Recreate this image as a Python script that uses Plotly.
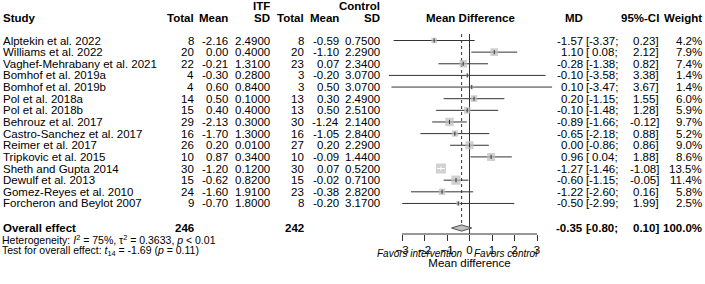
import plotly.graph_objects as go
import math

studies = ["Alptekin et al. 2022", "Williams et al. 2022", "Vaghef-Mehrabany et al. 2021",
           "Bomhof et al. 2019a", "Bomhof et al. 2019b", "Pol et al. 2018a", "Pol et al. 2018b",
           "Behrouz et al. 2017", "Castro-Sanchez et al. 2017", "Reimer et al. 2017",
           "Tripkovic et al. 2015", "Sheth and Gupta 2014", "Dewulf et al. 2013",
           "Gomez-Reyes et al. 2010", "Forcheron and Beylot 2007"]
itf_n = [8, 20, 22, 4, 4, 14, 15, 29, 16, 26, 10, 30, 15, 24, 9]
itf_mean = [-2.16, 0.00, -0.21, -0.30, 0.60, 0.50, 0.40, -2.13, -1.70, 0.20, 0.87, -1.20, -0.62, -1.60, -0.70]
itf_sd = [2.49, 0.40, 1.31, 0.28, 0.84, 0.10, 0.40, 0.30, 1.30, 0.01, 0.34, 0.12, 0.82, 1.91, 1.80]
ctl_n = [8, 20, 23, 3, 3, 13, 13, 30, 16, 27, 10, 30, 15, 23, 8]
ctl_mean = [-0.59, -1.10, 0.07, -0.20, 0.50, 0.30, 0.50, -1.24, -1.05, 0.20, -0.09, 0.07, -0.02, -0.38, -0.20]
ctl_sd = [0.75, 2.29, 2.34, 3.07, 3.07, 2.49, 2.51, 2.14, 2.84, 2.29, 1.44, 0.52, 0.71, 2.82, 3.17]
md = [-1.57, 1.10, -0.28, -0.10, 0.10, 0.20, -0.10, -0.89, -0.65, 0.00, 0.96, -1.27, -0.60, -1.22, -0.50]
ci_lo = [-3.37, 0.08, -1.38, -3.58, -3.47, -1.15, -1.48, -1.66, -2.18, -0.86, 0.04, -1.46, -1.15, -2.60, -2.99]
ci_hi = [0.23, 2.12, 0.82, 3.38, 3.67, 1.55, 1.28, -0.12, 0.88, 0.86, 1.88, -1.08, -0.05, 0.16, 1.99]
weight = [4.2, 7.9, 7.4, 1.4, 1.4, 6.0, 5.9, 9.7, 5.2, 9.0, 8.6, 13.5, 11.4, 5.8, 2.5]

overall_n_itf = 246
overall_n_ctl = 242
overall_md = -0.35
overall_lo = -0.80
overall_hi = 0.10
overall_w = 100.0
het_text = "Heterogeneity: <i>I</i><sup>2</sup> = 75%, τ<sup>2</sup> = 0.3633, <i>p</i> &lt; 0.01"
test_text = "Test for overall effect: <i>t</i><sub>14</sub> = -1.69 (<i>p</i> = 0.11)"
tick_vals = [-3, -2, -1, 0, 1, 2, 3]
label_left = "Favors intervention"
label_right = "Favors control"

W, H = 705, 284
ROW0, ROWH = 40.5, 11.64          # pixel centre of first row, row height
def row_of(px):
    return (px - ROW0) / ROWH

FONT = "Liberation Sans, Arial, Helvetica, sans-serif"
FS = 11.5
DARK = "#333333"
SQ = "#BEBEBE"

n = len(studies)
rows = list(range(n))
r_over = row_of(228)
r_axis = row_of(234)
r_top = row_of(34)

fig = go.Figure()

# CI lines
xs, ys = [], []
for i in rows:
    xs += [ci_lo[i], ci_hi[i], None]
    ys += [i, i, None]
fig.add_trace(go.Scatter(x=xs, y=ys, mode="lines", line=dict(color=DARK, width=1),
                         hoverinfo="skip", showlegend=False))

# reference line at 0 and dotted overall line
fig.add_trace(go.Scatter(x=[0, 0], y=[r_top, r_axis], mode="lines",
                         line=dict(color=DARK, width=1), hoverinfo="skip", showlegend=False))
fig.add_trace(go.Scatter(x=[overall_md, overall_md], y=[r_top, r_over - 0.27], mode="lines",
                         line=dict(color=DARK, width=1, dash="dot"), hoverinfo="skip", showlegend=False))

# squares
sizes = [2.72 * math.sqrt(w) for w in weight]
fig.add_trace(go.Scatter(x=md, y=rows, mode="markers",
                         marker=dict(symbol="square", size=sizes, color=SQ, line=dict(width=0)),
                         hoverinfo="skip", showlegend=False))

# inside white CI for studies where CI fits inside square
xs, ys = [], []
tick_col = []
for i in rows:
    inside = (ci_hi[i] - ci_lo[i]) * 22.5 < sizes[i]
    tick_col.append("white" if inside else DARK)
    if inside:
        xs += [ci_lo[i], ci_hi[i], None]
        ys += [i, i, None]
fig.add_trace(go.Scatter(x=xs, y=ys, mode="lines", line=dict(color="white", width=1),
                         hoverinfo="skip", showlegend=False))
fig.add_trace(go.Scatter(x=md, y=rows, mode="markers",
                         marker=dict(symbol="line-ns", size=3, line=dict(color=tick_col, width=1)),
                         hoverinfo="skip", showlegend=False))

# diamond
dh = 0.27
fig.add_trace(go.Scatter(x=[overall_lo, overall_md, overall_hi, overall_md, overall_lo],
                         y=[r_over, r_over - dh, r_over, r_over + dh, r_over],
                         mode="lines", fill="toself", fillcolor=SQ,
                         line=dict(color="#555555", width=1), hoverinfo="skip", showlegend=False))

# axis line
fig.add_shape(type="line", xref="x", yref="y", x0=tick_vals[0], x1=tick_vals[-1],
              y0=r_axis, y1=r_axis, line=dict(color=DARK, width=1))

anns = []
def ann(px, row, text, anchor="right", size=FS, xref="paper"):
    anns.append(dict(x=px / W if xref == "paper" else px, xref=xref, y=row, yref="y",
                     text=text, showarrow=False, xanchor=anchor, yanchor="middle",
                     borderpad=0, borderwidth=0,
                     font=dict(family=FONT, size=size, color="black")))

# headers
rh1, rh2 = row_of(6), row_of(18)
ann(270, rh1, "<b>ITF</b>")
ann(380, rh1, "<b>Control</b>")
ann(3, rh2, "<b>Study</b>", anchor="left")
for px, t in [(194, "Total"), (228, "Mean"), (270, "SD"), (304, "Total"), (339, "Mean"),
              (380, "SD"), (583, "MD"), (659, "95%-CI"), (702, "Weight")]:
    ann(px, rh2, "<b>%s</b>" % t)
ann(470, rh2, "<b>Mean Difference</b>", anchor="center")

def ci_cells(row, lo, hi, w, bold=False):
    b0, b1 = ("<b>", "</b>") if bold else ("", "")
    ann(585.5, row, b0 + "[" + b1, anchor="left")
    ann(618, row, b0 + "%.2f;" % lo + b1)
    ann(658.5, row, b0 + "%.2f]" % hi + b1)
    ann(702, row, b0 + "%.1f%%" % w + b1)

for i in rows:
    ann(3, i, studies[i], anchor="left")
    ann(194, i, "%d" % itf_n[i])
    ann(228, i, "%.2f" % itf_mean[i])
    ann(270, i, "%.4f" % itf_sd[i])
    ann(304, i, "%d" % ctl_n[i])
    ann(339, i, "%.2f" % ctl_mean[i])
    ann(380, i, "%.4f" % ctl_sd[i])
    ann(583, i, "%.2f" % md[i])
    ci_cells(i, ci_lo[i], ci_hi[i], weight[i])

# overall row
ann(3, r_over, "<b>Overall effect</b>", anchor="left")
ann(194, r_over, "<b>%d</b>" % overall_n_itf)
ann(304, r_over, "<b>%d</b>" % overall_n_ctl)
ann(583, r_over, "<b>%.2f</b>" % overall_md)
ci_cells(r_over, overall_lo, overall_hi, overall_w, bold=True)

ann(2, row_of(239.5), het_text, anchor="left", size=10.5)
ann(2, row_of(250.5), test_text, anchor="left", size=10.5)

# favours labels
ann(-0.33, row_of(253.5), "<i>%s</i>" % label_left, anchor="right", size=10, xref="x")
ann(0.2, row_of(253.5), "<i>%s</i>" % label_right, anchor="left", size=10, xref="x")

fig.update_layout(
    width=W, height=H, margin=dict(l=0, r=0, t=0, b=0),
    paper_bgcolor="white", plot_bgcolor="white",
    font=dict(family=FONT, size=FS, color="black"),
    showlegend=False,
    annotations=anns,
    xaxis=dict(domain=[379.5 / W, 559.5 / W], range=[-4, 4], anchor="free",
               position=1 - 234 / H, tickvals=tick_vals, ticks="outside", ticklen=6,
               tickwidth=1, tickcolor=DARK, showline=False, showgrid=False, zeroline=False,
               ticklabelstandoff=-1,
               tickfont=dict(family=FONT, size=11.5, color="black"),
               title=dict(text="Mean difference", standoff=4,
                          font=dict(family=FONT, size=11.5, color="black"))),
    yaxis=dict(domain=[0, 1], range=[row_of(H), row_of(0)], visible=False),
)

fig.write_html("out.html", config={"displayModeBar": False, "staticPlot": True},
               post_script="document.body.style.margin='0';document.body.style.padding='0';"
                           "document.body.style.overflow='hidden';")
